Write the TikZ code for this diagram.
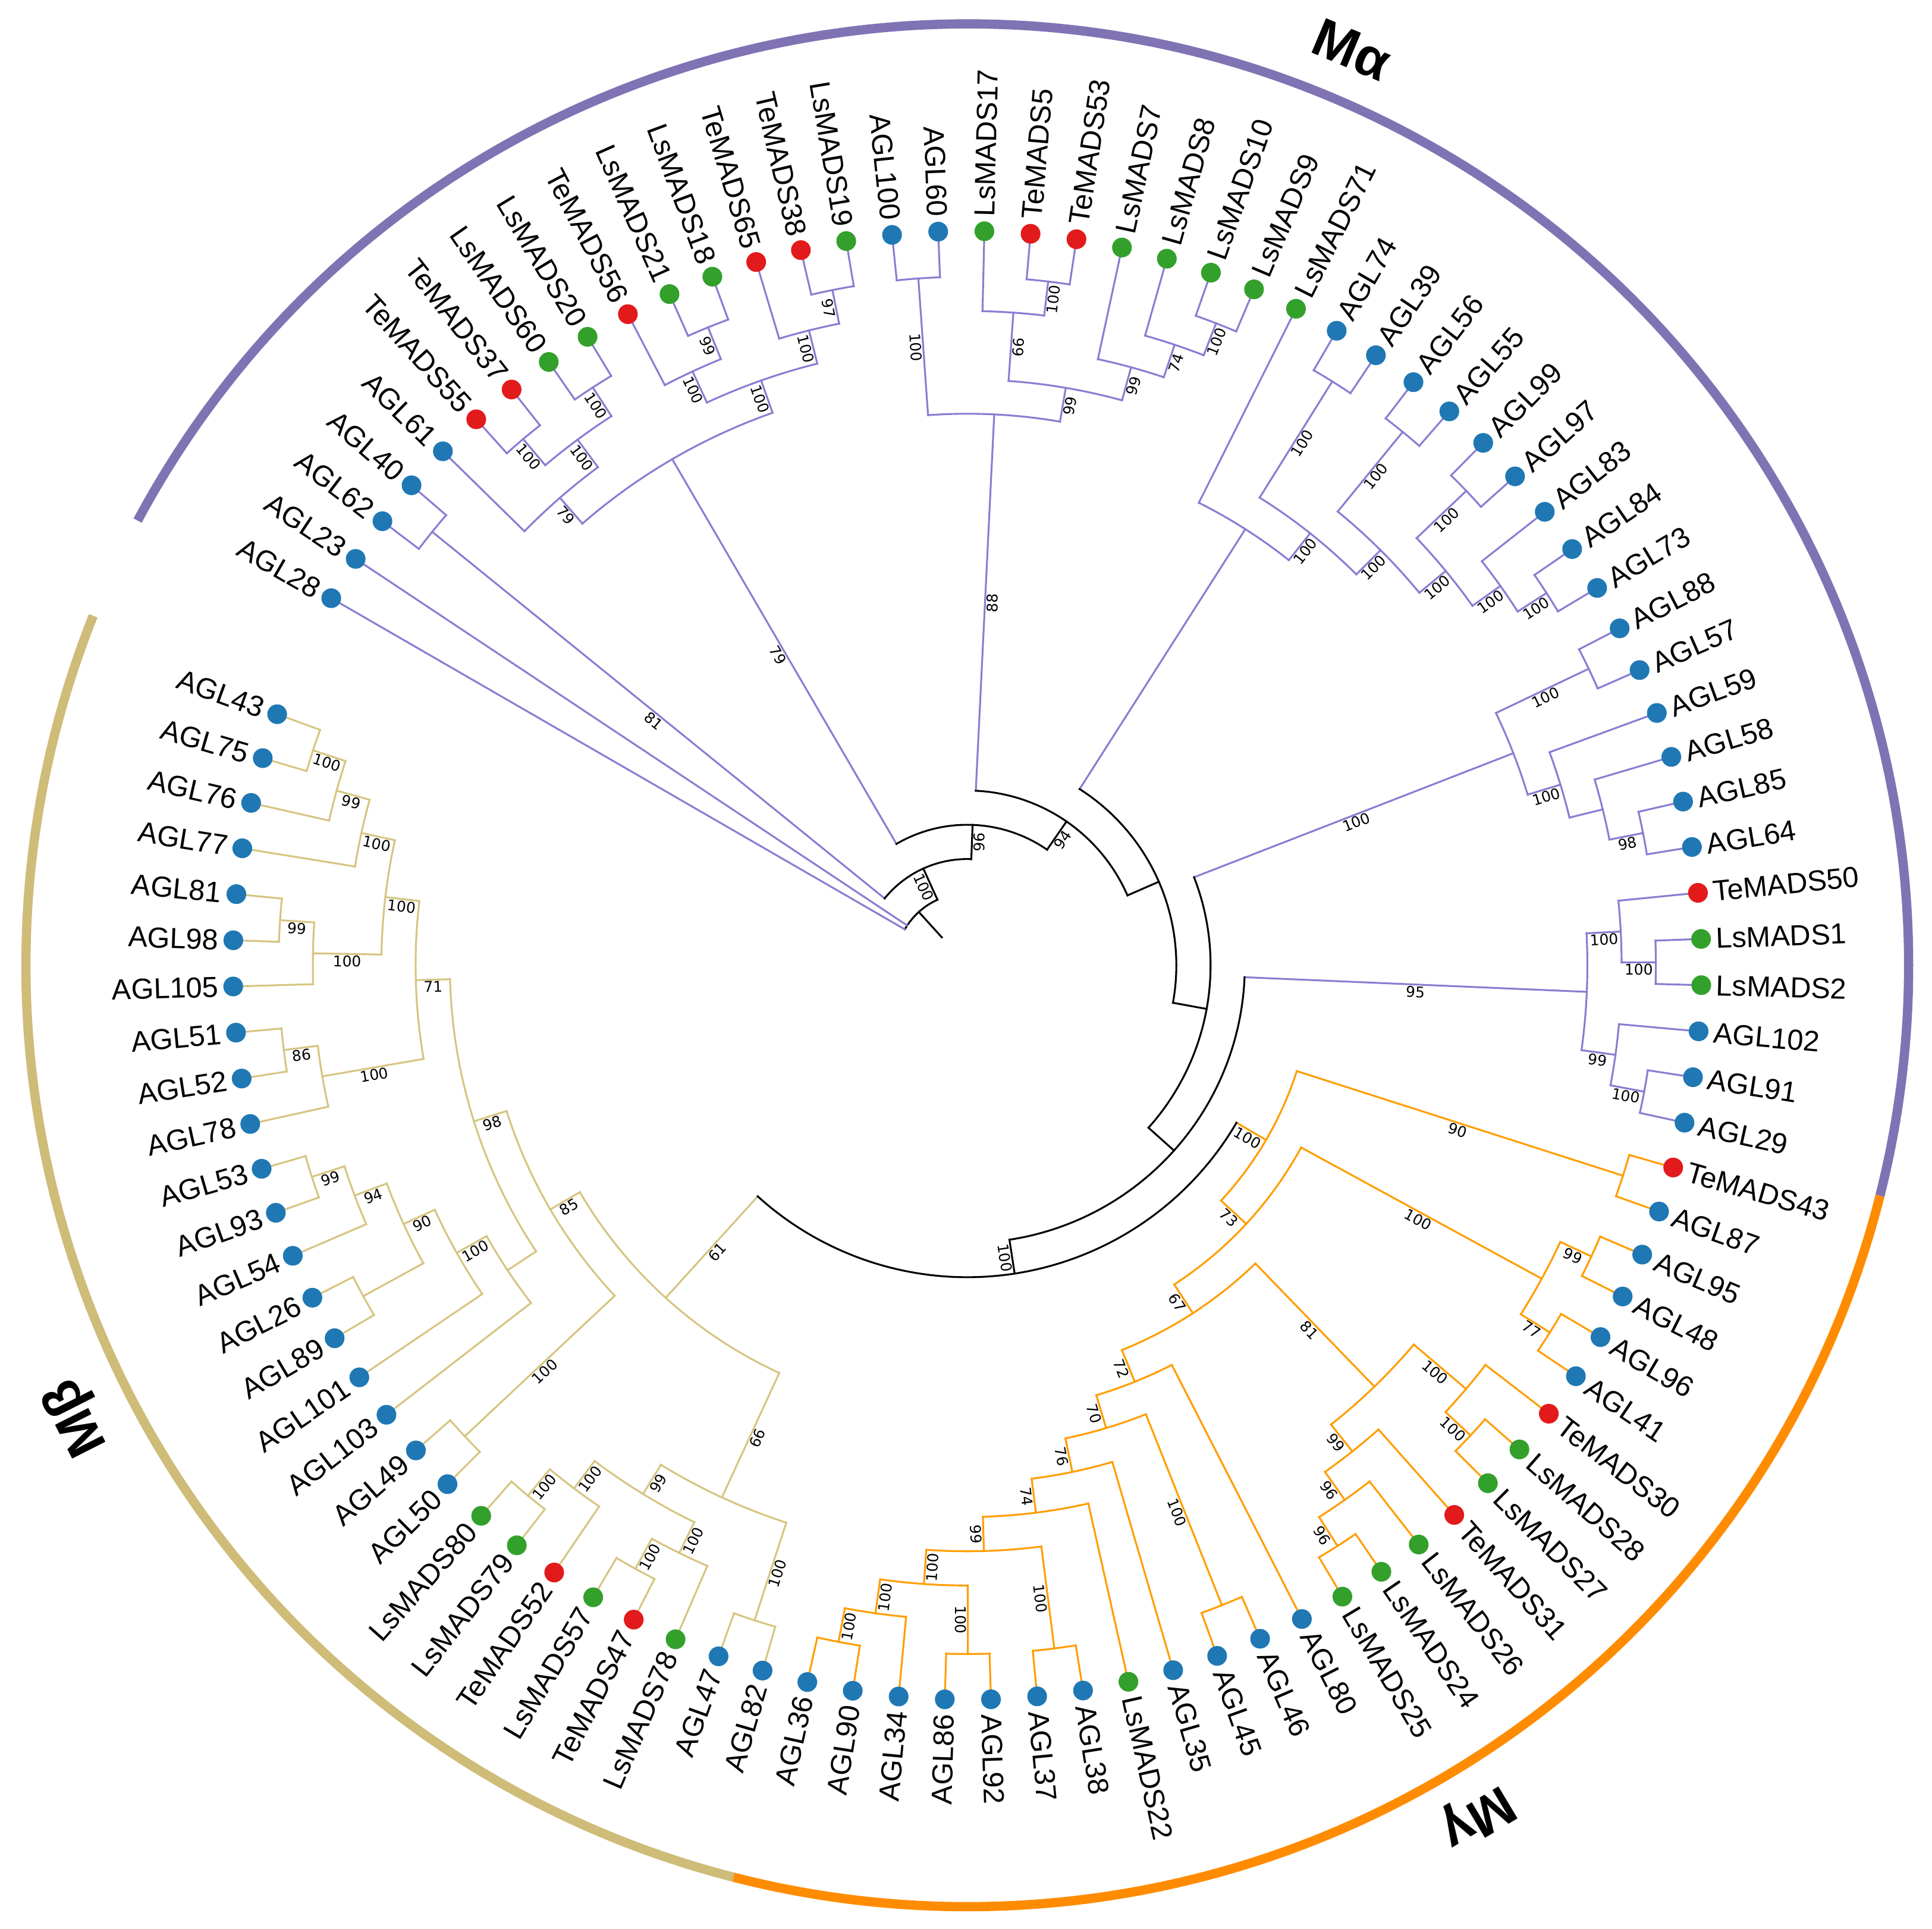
\documentclass[tikz,border=0pt]{standalone}
\usepackage{fontspec}
\setmainfont{Liberation Sans}
\newfontfamily\bsfont{DejaVu Sans}
\definecolor{ma}{RGB}{136,126,210}
\definecolor{maarc}{RGB}{128,115,180}
\definecolor{mg}{RGB}{255,158,0}
\definecolor{mgarc}{RGB}{255,140,0}
\definecolor{mb}{RGB}{214,197,130}
\definecolor{mbarc}{RGB}{206,188,120}
\definecolor{cA}{RGB}{31,120,180}
\definecolor{cL}{RGB}{51,160,44}
\definecolor{cT}{RGB}{227,26,28}
\tikzset{
  tree/.style={line width=1.5pt, line cap=rect},
  leaflab/.style={font=\fontsize{23.5}{26}\selectfont, inner sep=0pt},
  bs/.style={font=\bsfont\fontsize{12}{14}\selectfont, inner sep=1.2pt},
  clade/.style={font=\bfseries\fontsize{44}{50}\selectfont, inner sep=0pt},
  outerarc/.style={line width=7.5pt}
}
\newcommand\SetAng[2]{\pgfmathsetmacro\TmpAng{#2}\expandafter\xdef\csname ang@#1\endcsname{\TmpAng}}
\newcommand\AngOf[1]{\csname ang@#1\endcsname}
\newcommand\BsLab[4]{%
  \ifx\relax#4\relax\else
  \pgfmathsetmacro\BsR{#3}%
  \pgfmathtruncatemacro\BsSide{cos(#2)>=0}%
  \ifnum\BsSide=1
    \node[bs,rotate=#2,anchor=north] (bs-#1) at (#2:\BsR pt) {#4};
  \else
    \pgfmathsetmacro\BsRot{#2+180}%
    \node[bs,rotate=\BsRot,anchor=north] (bs-#1) at (#2:\BsR pt) {#4};
  \fi\fi}
% name, h, parent h, child1, child2, colour, label
\newcommand\Nd[7]{%
  \SetAng{#1}{(\AngOf{#4}+\AngOf{#5})/2}%
  \pgfmathsetmacro\NdA{\AngOf{#1}}%
  \pgfmathsetmacro\NdR{586.7-27.8*#2}%
  \pgfmathsetmacro\NdP{586.7-27.8*#3}%
  \pgfmathsetmacro\NdC{\AngOf{#4}}%
  \pgfmathsetmacro\NdD{\AngOf{#5}}%
  \draw[tree,#6] (\NdA:\NdP pt) -- (\NdA:\NdR pt);
  \draw[tree,#6] (\NdC:\NdR pt) arc[start angle=\NdC, end angle=\NdD, radius=\NdR pt];
  \BsLab{#1}{\NdA}{(\NdR+\NdP)/2}{#7}}
% index, name, dot colour, parent h, line colour
\newcommand\Lf[5]{%
  \pgfmathsetmacro\LfA{\AngOf{L#1}}%
  \pgfmathsetmacro\LfP{586.7-27.8*#4}%
  \draw[tree,#5] (\LfA:\LfP pt) -- (\LfA:590pt);
  \fill[#3] (\LfA:596pt) circle[radius=8pt];
  \pgfmathtruncatemacro\LfSide{cos(\LfA)>=0}%
  \ifnum\LfSide=1
    \node[leaflab,rotate=\LfA,anchor=west] (lf-#1) at (\LfA:608pt) {#2};
  \else
    \pgfmathsetmacro\LfRot{\LfA+180}%
    \node[leaflab,rotate=\LfRot,anchor=east] (lf-#1) at (\LfA:608pt) {#2};
  \fi}
\begin{document}
\begin{tikzpicture}
\useasboundingbox (-785pt,-781.7pt) rectangle (783pt,783.5pt);
\fill[white] (-785pt,-781.7pt) rectangle (783pt,783.5pt);
\foreach \i in {1,...,98}{\SetAng{L\i}{150-3.60825*(\i-1)}}
% ---------- M alpha ----------
\Nd{G0}{1}{18}{L3}{L4}{ma}{81}
\Nd{G1}{1}{2}{L6}{L7}{ma}{100}
\Nd{G2}{1}{2}{L8}{L9}{ma}{100}
\Nd{G3}{2}{3}{G1}{G2}{ma}{100}
\Nd{G4}{3}{4}{L5}{G3}{ma}{79}
\Nd{G5}{1}{2}{L11}{L12}{ma}{99}
\Nd{G6}{2}{3}{L10}{G5}{ma}{100}
\Nd{G7}{1}{2}{L14}{L15}{ma}{97}
\Nd{G8}{2}{3}{L13}{G7}{ma}{100}
\Nd{G9}{3}{4}{G6}{G8}{ma}{100}
\Nd{G10}{4}{17}{G4}{G9}{ma}{79}
\Nd{H1}{1}{5}{L16}{L17}{ma}{100}
\Nd{H2a}{1}{2}{L19}{L20}{ma}{100}
\Nd{H2}{2}{4}{L18}{H2a}{ma}{66}
\Nd{H3b}{1}{2}{L23}{L24}{ma}{100}
\Nd{H3a}{2}{3}{L22}{H3b}{ma}{74}
\Nd{H3}{3}{4}{L21}{H3a}{ma}{99}
\Nd{H4}{4}{5}{H2}{H3}{ma}{99}
\Nd{H5}{5}{16}{H1}{H4}{ma}{88}
\Nd{Na}{1}{2}{L33}{L34}{ma}{100}
\Nd{Nb}{2}{3}{L32}{Na}{ma}{100}
\Nd{A3}{1}{3}{L30}{L31}{ma}{100}
\Nd{Nc}{3}{4}{A3}{Nb}{ma}{100}
\Nd{A2}{1}{4}{L28}{L29}{ma}{100}
\Nd{Nd}{4}{5}{A2}{Nc}{ma}{100}
\Nd{A1}{1}{5}{L26}{L27}{ma}{100}
\Nd{Ne}{5}{6}{A1}{Nd}{ma}{100}
\Nd{Nf}{6}{15}{L25}{Ne}{ma}{}
\Nd{M1}{1}{4}{L35}{L36}{ma}{100}
\Nd{M2}{1}{2}{L39}{L40}{ma}{98}
\Nd{M3}{2}{3}{L38}{M2}{ma}{}
\Nd{M4}{3}{4}{L37}{M3}{ma}{100}
\Nd{M5}{4}{14}{M1}{M4}{ma}{100}
\Nd{P1}{1}{2}{L42}{L43}{ma}{100}
\Nd{P2}{2}{3}{L41}{P1}{ma}{100}
\Nd{P3}{1}{2}{L45}{L46}{ma}{100}
\Nd{P4}{2}{3}{L44}{P3}{ma}{99}
\Nd{P5}{3}{13}{P2}{P4}{ma}{95}
% ---------- M gamma ----------
\Nd{Q1}{1}{11}{L47}{L48}{mg}{90}
\Nd{Q2}{1}{2}{L49}{L50}{mg}{99}
\Nd{Q3}{1}{2}{L51}{L52}{mg}{77}
\Nd{Q4}{2}{10}{Q2}{Q3}{mg}{100}
\Nd{R1}{1}{2}{L54}{L55}{mg}{100}
\Nd{R2}{2}{4}{L53}{R1}{mg}{100}
\Nd{R3}{1}{2}{L58}{L59}{mg}{96}
\Nd{R4}{2}{3}{L57}{R3}{mg}{96}
\Nd{R5}{3}{4}{L56}{R4}{mg}{99}
\Nd{R6}{4}{9}{R2}{R5}{mg}{81}
\Nd{S1}{1}{7}{L61}{L62}{mg}{100}
\Nd{S4}{1}{4}{L65}{L66}{mg}{100}
\Nd{S3}{1}{3}{L67}{L68}{mg}{100}
\Nd{Q17}{1}{2}{L70}{L71}{mg}{100}
\Nd{Q16}{2}{3}{L69}{Q17}{mg}{100}
\Nd{Q15}{3}{4}{S3}{Q16}{mg}{100}
\Nd{Q14}{4}{5}{S4}{Q15}{mg}{99}
\Nd{Q13}{5}{6}{L64}{Q14}{mg}{74}
\Nd{Q12}{6}{7}{L63}{Q13}{mg}{76}
\Nd{Q11}{7}{8}{S1}{Q12}{mg}{70}
\Nd{Q10}{8}{9}{L60}{Q11}{mg}{72}
\Nd{Q8}{9}{10}{R6}{Q10}{mg}{67}
\Nd{Q7}{10}{11}{Q4}{Q8}{mg}{73}
\Nd{Mg}{11}{12}{Q1}{Q7}{mg}{100}
% ---------- M beta ----------
\Nd{U1}{1}{2}{L97}{L98}{mb}{100}
\Nd{U2}{2}{3}{U1}{L96}{mb}{99}
\Nd{U3}{3}{4}{U2}{L95}{mb}{100}
\Nd{U4}{1}{2}{L93}{L94}{mb}{99}
\Nd{U5}{2}{4}{U4}{L92}{mb}{100}
\Nd{U6}{4}{5}{U3}{U5}{mb}{100}
\Nd{U7a}{1}{2}{L90}{L91}{mb}{86}
\Nd{U7}{2}{5}{U7a}{L89}{mb}{100}
\Nd{U8}{5}{6}{U6}{U7}{mb}{71}
\Nd{V1}{1}{2}{L87}{L88}{mb}{99}
\Nd{V2}{2}{3}{V1}{L86}{mb}{94}
\Nd{V3}{1}{3}{L84}{L85}{mb}{}
\Nd{V4}{3}{4}{V2}{V3}{mb}{90}
\Nd{V5}{4}{5}{V4}{L83}{mb}{100}
\Nd{V6}{5}{6}{V5}{L82}{mb}{}
\Nd{U9}{6}{7}{U8}{V6}{mb}{98}
\Nd{W1}{1}{7}{L80}{L81}{mb}{100}
\Nd{U10}{7}{8}{U9}{W1}{mb}{85}
\Nd{T1}{1}{2}{L78}{L79}{mb}{100}
\Nd{T2}{2}{3}{T1}{L77}{mb}{100}
\Nd{T3}{1}{2}{L75}{L76}{mb}{100}
\Nd{T4}{2}{3}{T3}{L74}{mb}{100}
\Nd{T5}{3}{4}{T2}{T4}{mb}{99}
\Nd{T6}{1}{4}{L72}{L73}{mb}{100}
\Nd{T7}{4}{8}{T5}{T6}{mb}{66}
\Nd{Mb}{8}{12}{U10}{T7}{mb}{61}
% ---------- backbone ----------
\Nd{C7}{12}{13}{Mg}{Mb}{black}{100}
\Nd{C6}{13}{14}{P5}{C7}{black}{}
\Nd{C5}{14}{15}{M5}{C6}{black}{}
\Nd{C4}{15}{16}{Nf}{C5}{black}{}
\Nd{C3}{16}{17}{H5}{C4}{black}{94}
\Nd{C2}{17}{18}{G10}{C3}{black}{96}
\Nd{C1}{18}{19}{G0}{C2}{black}{100}
\SetAng{Root}{(\AngOf{L1}+\AngOf{C1})/2}
\pgfmathsetmacro\RootA{\AngOf{Root}}
\pgfmathsetmacro\RootB{\AngOf{L1}}
\pgfmathsetmacro\RootC{\AngOf{C1}}
\draw[tree,black] (\RootA:30.7pt) -- (\RootA:58.5pt);
\draw[tree,black] (\RootB:58.5pt) arc[start angle=\RootB, end angle=\RootC, radius=58.5pt];
% ---------- leaves ----------
\Lf{1}{AGL28}{cA}{19}{ma}
\Lf{2}{AGL23}{cA}{19}{ma}
\Lf{3}{AGL62}{cA}{1}{ma}
\Lf{4}{AGL40}{cA}{1}{ma}
\Lf{5}{AGL61}{cA}{3}{ma}
\Lf{6}{TeMADS55}{cT}{1}{ma}
\Lf{7}{TeMADS37}{cT}{1}{ma}
\Lf{8}{LsMADS60}{cL}{1}{ma}
\Lf{9}{LsMADS20}{cL}{1}{ma}
\Lf{10}{TeMADS56}{cT}{2}{ma}
\Lf{11}{LsMADS21}{cL}{1}{ma}
\Lf{12}{LsMADS18}{cL}{1}{ma}
\Lf{13}{TeMADS65}{cT}{2}{ma}
\Lf{14}{TeMADS38}{cT}{1}{ma}
\Lf{15}{LsMADS19}{cL}{1}{ma}
\Lf{16}{AGL100}{cA}{1}{ma}
\Lf{17}{AGL60}{cA}{1}{ma}
\Lf{18}{LsMADS17}{cL}{2}{ma}
\Lf{19}{TeMADS5}{cT}{1}{ma}
\Lf{20}{TeMADS53}{cT}{1}{ma}
\Lf{21}{LsMADS7}{cL}{3}{ma}
\Lf{22}{LsMADS8}{cL}{2}{ma}
\Lf{23}{LsMADS10}{cL}{1}{ma}
\Lf{24}{LsMADS9}{cL}{1}{ma}
\Lf{25}{LsMADS71}{cL}{6}{ma}
\Lf{26}{AGL74}{cA}{1}{ma}
\Lf{27}{AGL39}{cA}{1}{ma}
\Lf{28}{AGL56}{cA}{1}{ma}
\Lf{29}{AGL55}{cA}{1}{ma}
\Lf{30}{AGL99}{cA}{1}{ma}
\Lf{31}{AGL97}{cA}{1}{ma}
\Lf{32}{AGL83}{cA}{2}{ma}
\Lf{33}{AGL84}{cA}{1}{ma}
\Lf{34}{AGL73}{cA}{1}{ma}
\Lf{35}{AGL88}{cA}{1}{ma}
\Lf{36}{AGL57}{cA}{1}{ma}
\Lf{37}{AGL59}{cA}{3}{ma}
\Lf{38}{AGL58}{cA}{2}{ma}
\Lf{39}{AGL85}{cA}{1}{ma}
\Lf{40}{AGL64}{cA}{1}{ma}
\Lf{41}{TeMADS50}{cT}{2}{ma}
\Lf{42}{LsMADS1}{cL}{1}{ma}
\Lf{43}{LsMADS2}{cL}{1}{ma}
\Lf{44}{AGL102}{cA}{2}{ma}
\Lf{45}{AGL91}{cA}{1}{ma}
\Lf{46}{AGL29}{cA}{1}{ma}
\Lf{47}{TeMADS43}{cT}{1}{mg}
\Lf{48}{AGL87}{cA}{1}{mg}
\Lf{49}{AGL95}{cA}{1}{mg}
\Lf{50}{AGL48}{cA}{1}{mg}
\Lf{51}{AGL96}{cA}{1}{mg}
\Lf{52}{AGL41}{cA}{1}{mg}
\Lf{53}{TeMADS30}{cT}{2}{mg}
\Lf{54}{LsMADS28}{cL}{1}{mg}
\Lf{55}{LsMADS27}{cL}{1}{mg}
\Lf{56}{TeMADS31}{cT}{3}{mg}
\Lf{57}{LsMADS26}{cL}{2}{mg}
\Lf{58}{LsMADS24}{cL}{1}{mg}
\Lf{59}{LsMADS25}{cL}{1}{mg}
\Lf{60}{AGL80}{cA}{8}{mg}
\Lf{61}{AGL46}{cA}{1}{mg}
\Lf{62}{AGL45}{cA}{1}{mg}
\Lf{63}{AGL35}{cA}{6}{mg}
\Lf{64}{LsMADS22}{cL}{5}{mg}
\Lf{65}{AGL38}{cA}{1}{mg}
\Lf{66}{AGL37}{cA}{1}{mg}
\Lf{67}{AGL92}{cA}{1}{mg}
\Lf{68}{AGL86}{cA}{1}{mg}
\Lf{69}{AGL34}{cA}{2}{mg}
\Lf{70}{AGL90}{cA}{1}{mg}
\Lf{71}{AGL36}{cA}{1}{mg}
\Lf{72}{AGL82}{cA}{1}{mb}
\Lf{73}{AGL47}{cA}{1}{mb}
\Lf{74}{LsMADS78}{cL}{2}{mb}
\Lf{75}{TeMADS47}{cT}{1}{mb}
\Lf{76}{LsMADS57}{cL}{1}{mb}
\Lf{77}{TeMADS52}{cT}{2}{mb}
\Lf{78}{LsMADS79}{cL}{1}{mb}
\Lf{79}{LsMADS80}{cL}{1}{mb}
\Lf{80}{AGL50}{cA}{1}{mb}
\Lf{81}{AGL49}{cA}{1}{mb}
\Lf{82}{AGL103}{cA}{5}{mb}
\Lf{83}{AGL101}{cA}{4}{mb}
\Lf{84}{AGL89}{cA}{1}{mb}
\Lf{85}{AGL26}{cA}{1}{mb}
\Lf{86}{AGL54}{cA}{2}{mb}
\Lf{87}{AGL93}{cA}{1}{mb}
\Lf{88}{AGL53}{cA}{1}{mb}
\Lf{89}{AGL78}{cA}{2}{mb}
\Lf{90}{AGL52}{cA}{1}{mb}
\Lf{91}{AGL51}{cA}{1}{mb}
\Lf{92}{AGL105}{cA}{2}{mb}
\Lf{93}{AGL98}{cA}{1}{mb}
\Lf{94}{AGL81}{cA}{1}{mb}
\Lf{95}{AGL77}{cA}{3}{mb}
\Lf{96}{AGL76}{cA}{2}{mb}
\Lf{97}{AGL75}{cA}{1}{mb}
\Lf{98}{AGL43}{cA}{1}{mb}
% ---------- outer clade arcs ----------
\draw[maarc,outerarc] (151.8:764pt) arc[start angle=151.8,end angle=-14.17,radius=764pt];
\draw[mgarc,outerarc] (-14.17:764pt) arc[start angle=-14.17,end angle=-104.39,radius=764pt];
\draw[mbarc,outerarc] (-104.39:764pt) arc[start angle=-104.39,end angle=-201.8,radius=764pt];
\node[clade,rotate=-22.8] (lab-ma) at (67.2:806pt) {Mα};
\node[clade,rotate=-149.1] (lab-mg) at (-59.1:804pt) {Mγ};
\node[clade,rotate=116.9] (lab-mb) at (206.9:810pt) {Mβ};
\end{tikzpicture}
\end{document}
